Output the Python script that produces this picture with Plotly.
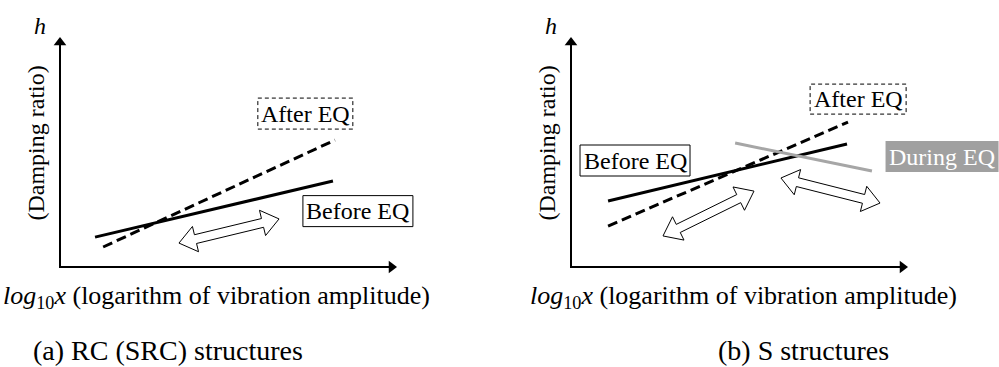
import math
import plotly.graph_objects as go

# ---------------- data (schematic units: both axes run 0..10) ----------------
AXIS_MAX = 10

# Panel (a) RC (SRC) structures
a_before_x = [1.04, 8.10]
a_before_y = [1.30, 3.74]
a_after_x = [1.28, 8.16]
a_after_y = [0.87, 5.52]
a_arrow_x = [3.53, 6.50]
a_arrow_y = [1.04, 2.09]

# Panel (b) S structures
b_before_x = [1.10, 8.19]
b_before_y = [2.87, 5.35]
b_after_x = [1.10, 8.22]
b_after_y = [1.78, 6.30]
b_during_x = [4.87, 8.93]
b_during_y = [5.39, 4.17]
b_arrow1_x = [2.73, 5.43]
b_arrow1_y = [1.35, 3.30]
b_arrow2_x = [6.23, 9.17]
b_arrow2_y = [3.87, 2.78]

# label texts and anchor points (data units)
LBL_BEFORE = "Before EQ"
LBL_AFTER = "After EQ"
LBL_DURING = "During EQ"
a_after_lbl = (7.28, 6.67)
a_before_lbl = (8.84, 2.43)
b_before_lbl = (1.90, 4.63)
b_after_lbl = (8.52, 7.30)
b_during_lbl = (11.01, 4.80)

Y_TITLE = "(Damping ratio)"
Y_SYMBOL = "h"
X_TITLE = "<i>log</i><sub>10</sub><i>x</i> (logarithm of vibration amplitude)"
CAPTION_A = "(a) RC (SRC) structures"
CAPTION_B = "(b) S structures"

# ---------------- layout constants (pixels) ----------------
W, H = 999, 367
FONT = "'Liberation Serif', 'Times New Roman', 'DejaVu Serif', serif"
ORIG = {"a": (60, 267), "b": (571, 267)}
LEN_X, LEN_Y = 337, 230
SX = LEN_X / AXIS_MAX
SY = LEN_Y / AXIS_MAX
DOMS = {"a": (0.0, 0.5), "b": (0.5, 1.0)}
REFS = {"a": ("x", "y"), "b": ("x2", "y2")}
GRAY_LINE = "#a6a6a6"
GRAY_BOX = "#a0a0a0"
HEAD_SIZE = 11  # px marker size of axis arrowheads


def xrange_for(p):
    x0 = ORIG[p][0]
    d0, d1 = DOMS[p]
    return [(d0 * W - x0) / SX, (d1 * W - x0) / SX]


def yrange_for(p):
    y0 = ORIG[p][1]
    return [-(H - y0) / SY, y0 / SY]


def hollow_arrow(xs, ys, sw=4.5, hw=13.0, hl=17.0):
    x0, y0 = xs[0] * SX, ys[0] * SY
    x1, y1 = xs[1] * SX, ys[1] * SY
    dx, dy = x1 - x0, y1 - y0
    L = math.hypot(dx, dy)
    ux, uy = dx / L, dy / L
    nx, ny = -uy, ux
    bx1, by1 = x1 - ux * hl, y1 - uy * hl
    bx0, by0 = x0 + ux * hl, y0 + uy * hl
    pts = [
        (x1, y1),
        (bx1 + nx * hw, by1 + ny * hw),
        (bx1 + nx * sw, by1 + ny * sw),
        (bx0 + nx * sw, by0 + ny * sw),
        (bx0 + nx * hw, by0 + ny * hw),
        (x0, y0),
        (bx0 - nx * hw, by0 - ny * hw),
        (bx0 - nx * sw, by0 - ny * sw),
        (bx1 - nx * sw, by1 - ny * sw),
        (bx1 - nx * hw, by1 - ny * hw),
        (x1, y1),
    ]
    return [p[0] / SX for p in pts], [p[1] / SY for p in pts]


fig = go.Figure()


def add_line(p, xs, ys, color="black", dash="solid", width=3):
    xr, yr = REFS[p]
    fig.add_trace(go.Scatter(x=xs, y=ys, mode="lines", xaxis=xr, yaxis=yr,
                             line=dict(color=color, width=width, dash=dash),
                             hoverinfo="skip", showlegend=False, cliponaxis=False))


def add_hollow(p, xs, ys):
    xr, yr = REFS[p]
    px, py = hollow_arrow(xs, ys)
    fig.add_trace(go.Scatter(x=px, y=py, mode="lines", fill="toself",
                             fillcolor="white", xaxis=xr, yaxis=yr,
                             line=dict(color="black", width=1),
                             hoverinfo="skip", showlegend=False))


def add_axes(p):
    xr, yr = REFS[p]
    r = HEAD_SIZE / 2.0
    fig.add_trace(go.Scatter(x=[AXIS_MAX - r / SX, 0, 0], y=[0, 0, AXIS_MAX - r / SY],
                             mode="lines", xaxis=xr, yaxis=yr,
                             line=dict(color="black", width=2),
                             hoverinfo="skip", showlegend=False, cliponaxis=False))
    fig.add_trace(go.Scatter(x=[AXIS_MAX - r / SX], y=[0], mode="markers",
                             xaxis=xr, yaxis=yr, cliponaxis=False,
                             marker=dict(symbol="triangle-right", size=HEAD_SIZE,
                                         color="black", line=dict(width=0)),
                             hoverinfo="skip", showlegend=False))
    fig.add_trace(go.Scatter(x=[0], y=[AXIS_MAX - r / SY], mode="markers",
                             xaxis=xr, yaxis=yr, cliponaxis=False,
                             marker=dict(symbol="triangle-up", size=HEAD_SIZE,
                                         color="black", line=dict(width=0)),
                             hoverinfo="skip", showlegend=False))


add_axes("a")
add_axes("b")
# panel (a)
add_line("a", a_after_x, a_after_y, dash="10px,5px")
add_line("a", a_before_x, a_before_y)
add_hollow("a", a_arrow_x, a_arrow_y)
# panel (b)
add_line("b", b_after_x, b_after_y, dash="10px,5px")
add_line("b", b_before_x, b_before_y)
add_line("b", b_during_x, b_during_y, color=GRAY_LINE)
add_hollow("b", b_arrow1_x, b_arrow1_y)
add_hollow("b", b_arrow2_x, b_arrow2_y)

annotations = []
shapes = []


def txt(p, x, y, text, size=24, color="black", angle=0, style="normal"):
    xr, yr = REFS[p]
    annotations.append(dict(x=x, y=y, xref=xr, yref=yr, text=text,
                            showarrow=False, textangle=angle,
                            xanchor="center", yanchor="middle",
                            font=dict(family=FONT, size=size, color=color, style=style)))


def box(p, center, wpx, hpx, dash="solid", fill="rgba(0,0,0,0)", line_color="black", lw=1):
    xr, yr = REFS[p]
    cx, cy = center
    shapes.append(dict(type="rect", xref=xr, yref=yr,
                       x0=cx - wpx / 2 / SX, x1=cx + wpx / 2 / SX,
                       y0=cy - hpx / 2 / SY, y1=cy + hpx / 2 / SY,
                       line=dict(color=line_color, width=lw, dash=dash),
                       fillcolor=fill, layer="below" if fill != "rgba(0,0,0,0)" else "above"))


for p, cap, cap_x, xt_x in (("a", CAPTION_A, 3.2, 4.63), ("b", CAPTION_B, 6.91, 5.13)):
    txt(p, -0.6, 10.5, Y_SYMBOL, size=24, style="italic")
    txt(p, -0.72, 5.4, Y_TITLE, size=24, angle=-90)
    txt(p, xt_x, -1.30, X_TITLE, size=26)
    txt(p, cap_x, -3.61, cap, size=28)

# panel (a) labels
box("a", a_after_lbl, 95, 31, dash="4px,3px")
txt("a", a_after_lbl[0], a_after_lbl[1], LBL_AFTER)
box("a", a_before_lbl, 110, 31)
txt("a", a_before_lbl[0], a_before_lbl[1], LBL_BEFORE)
# panel (b) labels
box("b", b_before_lbl, 110, 31)
txt("b", b_before_lbl[0], b_before_lbl[1], LBL_BEFORE)
box("b", b_after_lbl, 96, 30, dash="4px,3px")
txt("b", b_after_lbl[0], b_after_lbl[1], LBL_AFTER)
box("b", b_during_lbl, 113, 31, fill=GRAY_BOX, line_color=GRAY_BOX, lw=0)
txt("b", b_during_lbl[0], b_during_lbl[1], LBL_DURING, color="white")

axis_common = dict(visible=False, showgrid=False, zeroline=False, fixedrange=True)
fig.update_layout(
    width=W, height=H,
    margin=dict(l=0, r=0, t=0, b=0),
    paper_bgcolor="white", plot_bgcolor="white",
    showlegend=False,
    font=dict(family=FONT),
    xaxis=dict(domain=list(DOMS["a"]), range=xrange_for("a"), anchor="y", **axis_common),
    yaxis=dict(domain=[0, 1], range=yrange_for("a"), anchor="x", **axis_common),
    xaxis2=dict(domain=list(DOMS["b"]), range=xrange_for("b"), anchor="y2", **axis_common),
    yaxis2=dict(domain=[0, 1], range=yrange_for("b"), anchor="x2", **axis_common),
    annotations=annotations,
    shapes=shapes,
)

fig.write_html("out.html")
